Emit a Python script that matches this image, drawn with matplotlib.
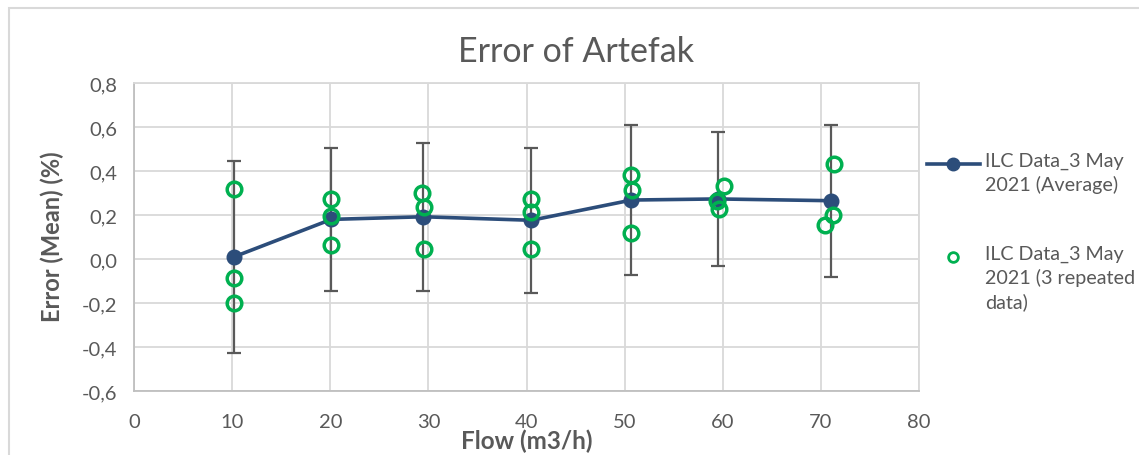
import numpy as np
import matplotlib
matplotlib.use("Agg")
import matplotlib.pyplot as plt
from matplotlib.lines import Line2D
from matplotlib.patches import Rectangle
from matplotlib.ticker import FuncFormatter

plt.rcParams["font.family"] = ["Lato", "DejaVu Sans"]

# Average of the 3 repeats, with error bar half-width
flow_avg = [10.2, 20.1, 29.5, 40.5, 50.7, 59.5, 71.0]
err_avg = [0.01, 0.18, 0.192, 0.176, 0.268, 0.273, 0.265]
err_bar = [0.435, 0.324, 0.337, 0.33, 0.34, 0.306, 0.345]

# the 3 repeated runs
flow_rep = [10.2, 10.2, 10.2,
            20.1, 20.1, 20.1,
            29.3, 29.6, 29.6,
            40.5, 40.5, 40.5,
            50.7, 50.8, 50.6,
            60.1, 59.4, 59.6,
            71.3, 71.2, 70.4]
err_rep = [0.32, -0.086, -0.2,
           0.274, 0.195, 0.065,
           0.30, 0.238, 0.044,
           0.274, 0.214, 0.044,
           0.383, 0.315, 0.116,
           0.333, 0.262, 0.229,
           0.433, 0.201, 0.156]

label_avg = "ILC Data_3 May\n2021 (Average)"
label_rep = "ILC Data_3 May\n2021 (3 repeated\ndata)"

navy = "#2C4D7A"
green = "#00B050"
txt = "#595959"
grid = "#D9D9D9"

W, H = 1139, 456
fig = plt.figure(figsize=(W / 100, H / 100), dpi=100)
ax = fig.add_axes([134 / W, 1 - 392 / H, (919 - 134) / W, (392 - 84) / H])

# outer chart frame (cut off at right/bottom in the screenshot)
fig.patches.append(Rectangle((9 / W, -0.1), 1.2, 1 - 9 / H + 0.1,
                             transform=fig.transFigure, fill=False,
                             edgecolor="#D9D9D9", lw=1.5))

ax.errorbar(flow_avg, err_avg, yerr=err_bar, fmt="none", ecolor="#595959",
            elinewidth=1.6, capsize=5, capthick=1.6, zorder=2)
ax.plot(flow_avg, err_avg, color=navy, lw=2.6, marker="o", markersize=10.5,
        zorder=3)
ax.plot(flow_rep, err_rep, ls="none", marker="o", markersize=10.5,
        markerfacecolor="none", markeredgecolor=green, markeredgewidth=2.5,
        zorder=4)

ax.set_xlim(0, 80)
ax.set_ylim(-0.6, 0.8)
ax.set_xticks(np.arange(0, 81, 10))
ax.set_yticks(np.arange(-0.6, 0.81, 0.2))
ax.yaxis.set_major_formatter(FuncFormatter(lambda v, p: f"{v:.1f}".replace(".", ",").replace("-0,0", "0,0")))
ax.grid(True, color=grid, lw=1.3)
ax.set_axisbelow(True)
for s in ax.spines.values():
    s.set_color(grid)
    s.set_linewidth(1.3)
ax.spines["left"].set_color("#BFBFBF")
ax.spines["bottom"].set_color("#BFBFBF")
ax.tick_params(length=0, labelsize=14.5, labelcolor=txt, pad=12)
ax.tick_params(axis="x", pad=16)

fig.text(576 / W, 1 - 52 / H, "Error of Artefak", ha="center", va="center",
         fontsize=24.5, color=txt)
fig.text(52 / W, 1 - 237 / H, "Error (Mean) (%)", ha="center", va="center",
         rotation=90, fontsize=17, fontweight="bold", color=txt)
fig.text(527 / W, 1 - 441 / H, "Flow (m3/h)", ha="center", va="center",
         fontsize=17.5, fontweight="bold", color=txt)

# legend, handles lined up with the first text line like Excel does
fig.lines.append(Line2D([927 / W, 980 / W], [1 - 165 / H] * 2, color=navy, lw=2.6,
                        transform=fig.transFigure))
fig.lines.append(Line2D([953 / W], [1 - 165 / H], color=navy, marker="o",
                        markersize=9, transform=fig.transFigure))
fig.lines.append(Line2D([953 / W], [1 - 258 / H], ls="none", marker="o", markersize=7,
                        markerfacecolor="none", markeredgecolor=green,
                        markeredgewidth=2, transform=fig.transFigure))
fig.text(985 / W, 1 - 153 / H, label_avg, ha="left", va="top", fontsize=14.2,
         color=txt, linespacing=1.4)
fig.text(985 / W, 1 - 246 / H, label_rep, ha="left", va="top", fontsize=14.2,
         color=txt, linespacing=1.4)

fig.savefig("out.png", dpi=100)
